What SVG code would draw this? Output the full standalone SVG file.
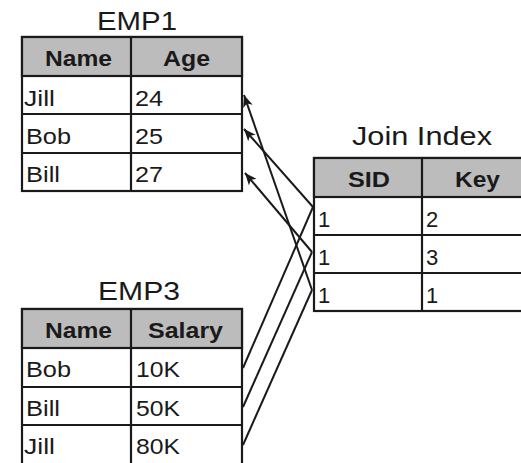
<svg xmlns="http://www.w3.org/2000/svg" width="521" height="463" viewBox="0 0 521 463">
<style>
.frame{fill:#fff;stroke:#1a1a1a;stroke-width:2.2}
.hdr{fill:#bcbcbc;stroke:#1a1a1a;stroke-width:2.2}
.grid{stroke:#1a1a1a;stroke-width:2.2;fill:none}
.title{font-family:"Liberation Sans",Arial,sans-serif;font-size:25px;fill:#1a1a1a}
.th{font-family:"Liberation Sans",Arial,sans-serif;font-size:22px;font-weight:bold;fill:#1a1a1a}
.td{font-family:"Liberation Sans",Arial,sans-serif;font-size:22px;fill:#1a1a1a}
.conn{stroke:#1a1a1a;stroke-width:2;fill:none}
</style>
<defs>
<marker id="arr" markerUnits="userSpaceOnUse" markerWidth="14" markerHeight="12" refX="12" refY="5" orient="auto">
<path d="M0,0 L12,5 L0,10 L3,5 z" fill="#1a1a1a"/>
</marker>
</defs>
<rect width="521" height="463" fill="#fff"/>

<g id="emp1">
<text class="title" x="97" y="30" textLength="80" lengthAdjust="spacingAndGlyphs">EMP1</text>
<rect class="frame" x="22" y="37" width="220" height="154"/>
<rect class="hdr" x="22" y="37" width="220" height="39"/>
<path class="grid" d="M22,114H242M22,153H242M131,37V191"/>
<text class="th" x="45" y="66" textLength="67" lengthAdjust="spacingAndGlyphs">Name</text>
<text class="th" x="163" y="66" textLength="47" lengthAdjust="spacingAndGlyphs">Age</text>
<text class="td" x="24" y="106" textLength="31" lengthAdjust="spacingAndGlyphs">Jill</text>
<text class="td" x="135" y="106" textLength="28" lengthAdjust="spacingAndGlyphs">24</text>
<text class="td" x="26" y="144" textLength="45" lengthAdjust="spacingAndGlyphs">Bob</text>
<text class="td" x="135" y="144" textLength="28" lengthAdjust="spacingAndGlyphs">25</text>
<text class="td" x="26" y="182" textLength="34" lengthAdjust="spacingAndGlyphs">Bill</text>
<text class="td" x="135" y="182" textLength="28" lengthAdjust="spacingAndGlyphs">27</text>
</g>

<g id="join-index">
<text class="title" x="352" y="145" textLength="140" lengthAdjust="spacingAndGlyphs">Join Index</text>
<rect class="frame" x="314" y="158" width="230" height="153"/>
<rect class="hdr" x="314" y="158" width="230" height="39"/>
<path class="grid" d="M314,235H544M314,273H544M422,158V311"/>
<text class="th" x="348" y="187" textLength="42" lengthAdjust="spacingAndGlyphs">SID</text>
<text class="th" x="455" y="187" textLength="45" lengthAdjust="spacingAndGlyphs">Key</text>
<text class="td" x="318" y="227">1</text>
<text class="td" x="426" y="227">2</text>
<text class="td" x="318" y="265">1</text>
<text class="td" x="426" y="265">3</text>
<text class="td" x="318" y="303">1</text>
<text class="td" x="426" y="303">1</text>
</g>

<g id="emp3">
<text class="title" x="98" y="300" textLength="82" lengthAdjust="spacingAndGlyphs">EMP3</text>
<rect class="frame" x="22" y="309" width="220" height="164"/>
<rect class="hdr" x="22" y="309" width="220" height="39"/>
<path class="grid" d="M22,387H242M22,425H242M131,309V473"/>
<text class="th" x="45" y="338" textLength="67" lengthAdjust="spacingAndGlyphs">Name</text>
<text class="th" x="148" y="338" textLength="75" lengthAdjust="spacingAndGlyphs">Salary</text>
<text class="td" x="26" y="377" textLength="45" lengthAdjust="spacingAndGlyphs">Bob</text>
<text class="td" x="136" y="377" textLength="44" lengthAdjust="spacingAndGlyphs">10K</text>
<text class="td" x="26" y="416" textLength="34" lengthAdjust="spacingAndGlyphs">Bill</text>
<text class="td" x="136" y="416" textLength="44" lengthAdjust="spacingAndGlyphs">50K</text>
<text class="td" x="24" y="454" textLength="31" lengthAdjust="spacingAndGlyphs">Jill</text>
<text class="td" x="136" y="454" textLength="44" lengthAdjust="spacingAndGlyphs">80K</text>
</g>

<g id="connectors">
<line class="conn" x1="312" y1="290" x2="244" y2="95" marker-end="url(#arr)"/>
<line class="conn" x1="313" y1="207" x2="244" y2="129" marker-end="url(#arr)"/>
<line class="conn" x1="312" y1="252" x2="245" y2="173" marker-end="url(#arr)"/>
<line class="conn" x1="243" y1="368" x2="313" y2="207"/>
<line class="conn" x1="243" y1="407" x2="312" y2="252"/>
<line class="conn" x1="243" y1="445" x2="312" y2="290"/>
</g>
</svg>
